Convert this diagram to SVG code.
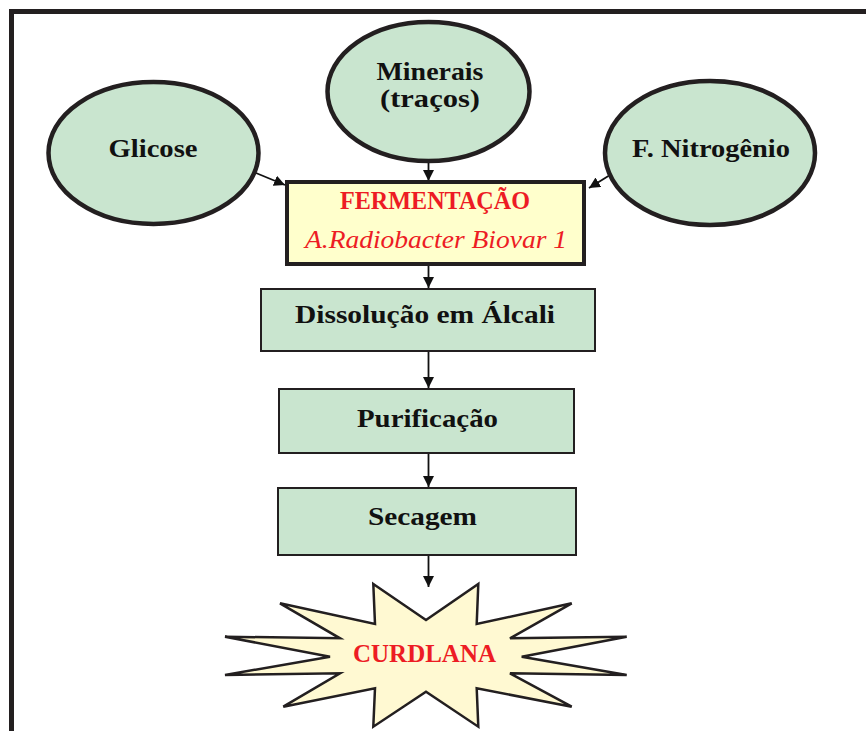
<svg xmlns="http://www.w3.org/2000/svg" width="866" height="731" viewBox="0 0 866 731">
<defs>
<style>
.bg{fill:#ffffff}
.frame{fill:none;stroke:#231F20;stroke-width:5}
.ell{fill:#C9E5CF;stroke:#231F20;stroke-width:4.5}
.box{fill:#C9E5CF;stroke:#231F20;stroke-width:2}
.ferm{fill:#FFFFCC;stroke:#231F20;stroke-width:4}
.star{fill:#FFF9D2;stroke:#231F20;stroke-width:2.5;stroke-linejoin:miter}
.lbl{font-family:'Liberation Serif','Times New Roman',serif;font-weight:bold;font-size:26px;fill:#111111;text-anchor:middle}
.red{fill:#ED1C24}
.ital{font-family:'Liberation Serif','Times New Roman',serif;font-style:italic;font-size:25px;fill:#ED1C24;text-anchor:middle}
.conn{stroke:#111111;stroke-width:1.8;fill:none}
</style>
<marker id="ah" viewBox="0 0 10 10" refX="10" refY="5" markerWidth="11" markerHeight="11" markerUnits="userSpaceOnUse" orient="auto">
<path d="M0,0 L10,5 L0,10 Z" fill="#111111"/>
</marker>
</defs>
<rect class="bg" x="0" y="0" width="866" height="731"/>
<path class="frame" d="M11.5,731 L11.5,11.5 L866,11.5"/>

<g id="connectors">
<line class="conn" x1="428.5" y1="163" x2="428.5" y2="181" marker-end="url(#ah)"/>
<line class="conn" x1="256" y1="173" x2="285" y2="185" marker-end="url(#ah)"/>
<line class="conn" x1="610" y1="175" x2="589" y2="188" marker-end="url(#ah)"/>
<line class="conn" x1="428.5" y1="266" x2="428.5" y2="288" marker-end="url(#ah)"/>
<line class="conn" x1="428.5" y1="351" x2="428.5" y2="388" marker-end="url(#ah)"/>
<line class="conn" x1="428.5" y1="453" x2="428.5" y2="487" marker-end="url(#ah)"/>
<line class="conn" x1="428.5" y1="556" x2="428.5" y2="587" marker-end="url(#ah)"/>
</g>

<g id="minerais">
<ellipse class="ell" cx="428.5" cy="91.5" rx="101" ry="69.5"/>
<text class="lbl" x="430" y="80" textLength="107" lengthAdjust="spacingAndGlyphs">Minerais</text>
<text class="lbl" x="430" y="107" textLength="100" lengthAdjust="spacingAndGlyphs">(traços)</text>
</g>

<g id="glicose">
<ellipse class="ell" cx="153.5" cy="153" rx="105" ry="71"/>
<text class="lbl" x="153" y="157" textLength="89" lengthAdjust="spacingAndGlyphs">Glicose</text>
</g>

<g id="nitrogenio">
<ellipse class="ell" cx="710" cy="153" rx="105" ry="72"/>
<text class="lbl" x="711" y="157" textLength="158" lengthAdjust="spacingAndGlyphs">F. Nitrogênio</text>
</g>

<g id="fermentacao">
<rect class="ferm" x="287" y="182" width="297" height="82"/>
<text class="lbl red" x="435" y="209" textLength="190" lengthAdjust="spacingAndGlyphs">FERMENTAÇÃO</text>
<text class="ital" x="436" y="248" textLength="262" lengthAdjust="spacingAndGlyphs">A.Radiobacter Biovar 1</text>
</g>

<g id="dissolucao">
<rect class="box" x="261" y="289" width="334" height="62"/>
<text class="lbl" x="425" y="323" textLength="260" lengthAdjust="spacingAndGlyphs">Dissolução em Álcali</text>
</g>

<g id="purificacao">
<rect class="box" x="279" y="389" width="295" height="64"/>
<text class="lbl" x="427.5" y="427" textLength="141" lengthAdjust="spacingAndGlyphs">Purificação</text>
</g>

<g id="secagem">
<rect class="box" x="278" y="488" width="298" height="67"/>
<text class="lbl" x="422.5" y="525" textLength="109" lengthAdjust="spacingAndGlyphs">Secagem</text>
</g>

<g id="curdlana">
<polygon class="star" points="373.3,584 426,620 478.3,584 476.7,624 571.7,603.3 510,638.3 626.7,636.7 521.7,656.7 626.7,675 510,673.3 571.7,706.7 476.7,688.3 478.3,726.7 426,691.7 373.3,726.7 375,688.3 283.3,706.7 340,673.3 225,675 330,656.7 225,636.7 340,638.3 280,603.3 375,624"/>
<text class="lbl red" x="424.5" y="662" textLength="143" lengthAdjust="spacingAndGlyphs">CURDLANA</text>
</g>
</svg>
